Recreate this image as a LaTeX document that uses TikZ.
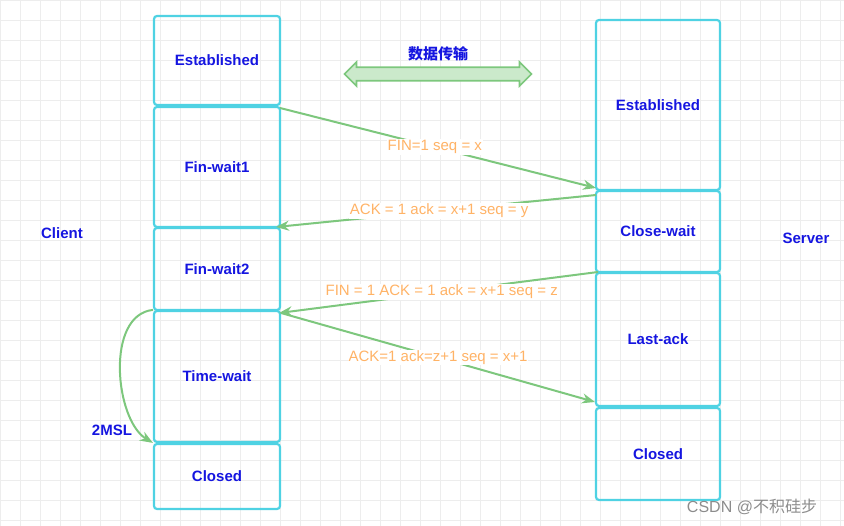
\documentclass[tikz,border=0pt]{standalone}
\usepackage{fontspec}
\setmainfont{Liberation Sans}
\newfontfamily\cjk{Noto Sans CJK SC}
\usetikzlibrary{shapes.arrows,arrows.meta}
\definecolor{bx}{HTML}{4FD2E3}
\definecolor{tb}{HTML}{1515E0}
\definecolor{gr}{HTML}{7DC77D}
\definecolor{lb}{HTML}{FFB366}
\begin{document}
\begin{tikzpicture}[x=1pt,y=-1pt,
 box/.style={draw=bx,line width=2.2pt,rounded corners=3pt,font=\bfseries\fontsize{15}{17}\selectfont,text=tb},
 msg/.style={draw=gr,line width=2pt,-{Stealth[length=13pt,width=10pt]}},
 lab/.style={fill=white,text=lb,font=\fontsize{15}{17}\selectfont,inner sep=1pt},
 side/.style={text=tb,font=\bfseries\fontsize{15}{17}\selectfont}]
\useasboundingbox (0,0) rectangle (844,526);
\foreach \i in {0,20,...,840} \draw[black!7,line width=0.6pt] (\i,0) -- (\i,526);
\foreach \i in {0,20,...,520} \draw[black!7,line width=0.6pt] (0,\i) -- (844,\i);
\newcommand{\bx}[6]{\node[box,minimum width=#3-#2,minimum height=#5-#4] (#1) at ({(#2+#3)/2},{(#4+#5)/2}) {#6};}
\bx{le}{154}{280}{16}{105}{Established}
\bx{lf1}{154}{280}{107}{227}{Fin-wait1}
\bx{lf2}{154}{280}{228}{310}{Fin-wait2}
\bx{lt}{154}{280}{311}{442}{Time-wait}
\bx{lc}{154}{280}{444}{509}{Closed}
\bx{re}{596}{720}{20}{190}{Established}
\bx{rw}{596}{720}{191}{272}{Close-wait}
\bx{rl}{596}{720}{273}{406}{Last-ack}
\bx{rc}{596}{720}{408}{500}{Closed}
\coordinate (a1) at (280,108); \coordinate (a2) at (596,188);
\coordinate (b1) at (596,195); \coordinate (b2) at (276,227);
\coordinate (c1) at (598,272); \coordinate (c2) at (279,313);
\coordinate (d1) at (281,313); \coordinate (d2) at (595,402);
\draw[msg] (a1) -- node[lab,pos=0.49] {FIN=1 seq = x} (a2);
\draw[msg] (b1) -- node[lab,pos=0.49] {ACK = 1 ack = x+1 seq = y} (b2);
\draw[msg] (c1) -- node[lab,pos=0.49] {FIN = 1 ACK = 1 ack = x+1 seq = z} (c2);
\draw[msg] (d1) -- node[lab,pos=0.5] {ACK=1 ack=z+1 seq = x+1} (d2);
\draw[msg] (lt.north west) .. controls (105,315) and (115,420) .. (lc.north west);
\node[side] (msl) at (112,430) {2MSL};
\node[double arrow,draw=gr,fill=gr!40,line width=1.6pt,minimum width=24pt,double arrow head extend=3pt,double arrow head indent=0pt,minimum height=187pt,inner sep=3pt] (da) at (438,74) {};
\node[side,font=\cjk\bfseries\fontsize{15}{17}\selectfont] (dt) at (438,54) {数据传输};
\node[side] (cl) at (62,233) {Client};
\node[side] (sv) at (806,238) {Server};
\node[text=black!45,font=\fontsize{16}{18}\selectfont] (wm) at (752,507) {CSDN @{\cjk 不积硅步}};
\end{tikzpicture}
\end{document}
